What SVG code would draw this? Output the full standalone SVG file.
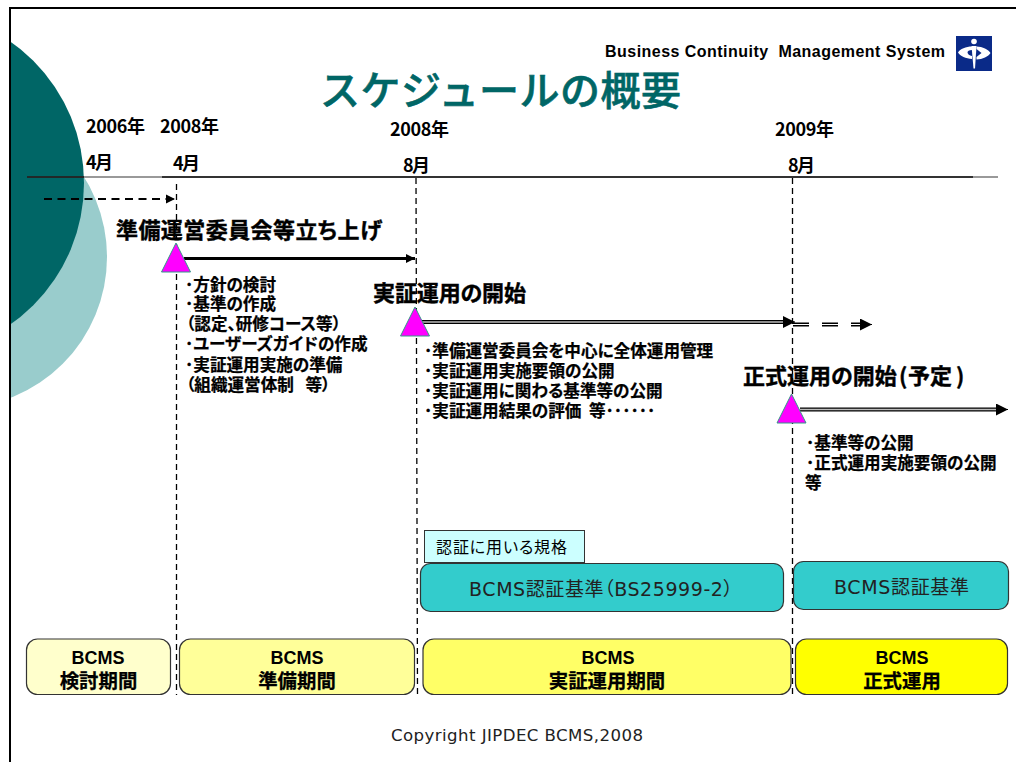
<svg xmlns="http://www.w3.org/2000/svg" width="1016" height="762" viewBox="0 0 1016 762">
<style>
text{font-family:"Noto Sans CJK JP","Liberation Sans",sans-serif;fill:#000;font-feature-settings:"palt"}
.yr{font-weight:700;font-size:18px}
.h{font-weight:700;font-size:22px;stroke:#000;stroke-width:.4}
.li{font-weight:700;font-size:16.600px;stroke:#000;stroke-width:.25}
.bt{font-family:"Liberation Sans","Noto Sans CJK JP",sans-serif;font-weight:700;font-size:18px;stroke:none}
.bk{font-weight:700;font-size:19.400px;text-anchor:middle;stroke:#000;stroke-width:.25}
.dv{font-family:"DejaVu Sans","Noto Sans CJK JP",sans-serif;fill:#222}
.dash{fill:none;stroke:#000;stroke-width:1.300;stroke-dasharray:6 4}
.tri{fill:#f0f;stroke:#339988;stroke-width:1}
.box{stroke:#333;stroke-width:1.200}
.dk{stroke:#000;stroke-width:4;fill:none}
.lt{stroke:#bbb;stroke-width:1.300;fill:none}
</style>
<defs>
<marker id="a1" markerUnits="userSpaceOnUse" markerWidth="10" markerHeight="10" refX="9" refY="5" orient="auto"><path d="M0 .5L9 5L0 9.500z" fill="#000"/></marker>
<marker id="a2" markerUnits="userSpaceOnUse" markerWidth="14" markerHeight="14" refX="12" refY="6" orient="auto"><path d="M0 0L12 6L0 12z" fill="#000"/></marker>
</defs>
<rect width="1016" height="762" fill="#fff"/>
<g id="background">
<circle cx="-44" cy="257" r="151" fill="#99cccc"/>
<circle cx="-89" cy="183" r="173" fill="#006666"/>
<rect x="0" y="0" width="10" height="762" fill="#fff"/>
<path d="M1016 8H10V762" fill="none" stroke="#000" stroke-width="2"/>
</g>
<g id="header">
<text x="605" y="57" xml:space="preserve" style="font-family:'Liberation Sans',sans-serif;font-weight:700;font-size:16px" textLength="340" fill="#111">Business Continuity  Management System</text>
<g id="logo">
<rect x="956" y="36" width="36" height="35" fill="#0a2a88"/>
<circle cx="974" cy="41.500" r="2.800" fill="#fff"/>
<path d="M971.500 46h5l-1.500 22.500h-1.500z" fill="#fff"/>
<path d="M958 52.500c2-3.500 8-6 14-6v3.500c-3 0-4.500 1-4.500 2.500s2 3 4.500 3.500v3c-6-.5-12-3-14-6.500z" fill="#fff"/>
<path d="M990.500 53c-2-3.500-8-6.500-14-6.500v2.500l5 4-5 4v2.500c6 0 12-3 14-6.500z" fill="#fff"/>
</g>
</g>
<text id="title" x="320" y="105" font-size="40" textLength="361" style="font-weight:500;fill:#006666;stroke:#006666;stroke-width:.6;font-feature-settings:normal">スケジュールの概要</text>
<g id="connectors">
<line x1="27" y1="177" x2="998" y2="177" stroke="#777" stroke-width="1.300"/>
<line x1="27" y1="177" x2="84" y2="177" stroke="#111" stroke-width="1.300"/>
<line x1="162" y1="177" x2="973" y2="177" stroke="#111" stroke-width="1.300"/>
<path class="dash" d="M176.500 184V695"/>
<path class="dash" d="M416 178L417.500 695"/>
<path class="dash" d="M792.500 178V695"/>
<path d="M44 199H175" fill="none" stroke="#000" stroke-width="1.800" stroke-dasharray="8 5.500" marker-end="url(#a1)"/>
<path d="M184 258.500H415" fill="none" stroke="#000" stroke-width="3" marker-end="url(#a1)"/>
<path class="dk" d="M422 322H783"/><path class="lt" d="M422 322H783"/>
<path d="M783 322L795 322" stroke="#000" stroke-width="1" marker-end="url(#a2)"/>
<path d="M793 324.500H860" fill="none" stroke="#000" stroke-width="4" stroke-dasharray="16 13"/>
<path d="M793 324.500H860" fill="none" stroke="#fff" stroke-width="1.200"/>
<path d="M860 324.500L872 324.500" stroke="#000" stroke-width="1" marker-end="url(#a2)"/>
<path class="dk" d="M800 409.500H996"/><path class="lt" d="M800 409.500H996"/>
<path d="M996 409.500L1008 409.500" stroke="#000" stroke-width="1" marker-end="url(#a2)"/>
</g>
<g id="dates">
<text class="yr" x="86" y="133" textLength="59">2006年</text>
<text class="yr" x="160" y="133" textLength="59">2008年</text>
<text class="yr" x="390" y="136" textLength="59">2008年</text>
<text class="yr" x="775" y="136" textLength="59">2009年</text>
<text class="yr" x="86" y="169" textLength="27">4月</text>
<text class="yr" x="173" y="170" textLength="27">4月</text>
<text class="yr" x="403" y="172" textLength="27">8月</text>
<text class="yr" x="788" y="172" textLength="27">8月</text>
</g>
<g id="milestone-prep">
<polygon class="tri" points="176,243 161.500,272 190.500,272"/>
<text class="h" x="116" y="238" textLength="266">準備運営委員会等立ち上げ</text>
<text class="li" xml:space="preserve"><tspan x="185" y="291">･方針の検討</tspan><tspan x="185" y="310">･基準の作成</tspan><tspan x="186" y="330">（認定、研修コース等）</tspan><tspan x="185" y="350">･ユーザーズガイドの作成</tspan><tspan x="185" y="371">･実証運用実施の準備</tspan><tspan x="186" y="391">（組織運営体制  </tspan><tspan dx="4">等）</tspan></text>
</g>
<g id="milestone-trial">
<polygon class="tri" points="415,307 400.500,336 429.500,336"/>
<text class="h" x="373" y="301" textLength="153">実証運用の開始</text>
<text class="li" xml:space="preserve"><tspan x="424" y="357">･準備運営委員会を中心に全体運用管理</tspan><tspan x="424" y="377">･実証運用実施要領の公開</tspan><tspan x="424" y="397">･実証運用に関わる基準等の公開</tspan><tspan x="424" y="417">･実証運用結果の評価  等･･････</tspan></text>
</g>
<g id="milestone-official">
<polygon class="tri" points="791.500,394 777,423 806,423"/>
<text class="h" x="743" y="384">正式運用の開始<tspan x="899">(</tspan><tspan x="908">予定</tspan><tspan x="956">)</tspan></text>
<text class="li"><tspan x="806" y="449">･基準等の公開</tspan><tspan x="806" y="469">･正式運用実施要領の公開</tspan><tspan x="805" y="489">等</tspan></text>
</g>
<g id="standard-label">
<rect x="424.500" y="530.500" width="160" height="32" fill="#ccffff" stroke="#333" stroke-width="1"/>
<text x="436" y="553" font-size="16" textLength="131" fill="#111">認証に用いる規格</text>
</g>
<g id="standard-trial">
<rect class="box" x="420.500" y="563.500" width="363" height="48" rx="10" fill="#33cccc"/>
<text class="dv" x="469" y="596" font-size="19" textLength="264">BCMS認証基準（BS25999-2）</text>
</g>
<g id="standard-official">
<rect class="box" x="793.500" y="561.500" width="215" height="48" rx="10" fill="#33cccc"/>
<text class="dv" x="834" y="594" font-size="19" textLength="135">BCMS認証基準</text>
</g>
<g id="phase-1">
<rect class="box" x="26.500" y="639" width="144" height="55.500" rx="11" fill="#ffffcc"/>
<text class="bk"><tspan class="bt" x="98" y="664">BCMS</tspan><tspan x="98.500" y="688">検討期間</tspan></text>
</g>
<g id="phase-2">
<rect class="box" x="179.500" y="639" width="235" height="55.500" rx="11" fill="#ffff99"/>
<text class="bk"><tspan class="bt" x="297" y="664">BCMS</tspan><tspan x="297" y="688">準備期間</tspan></text>
</g>
<g id="phase-3">
<rect class="box" x="423" y="639" width="368" height="55.500" rx="11" fill="#ffff66"/>
<text class="bk"><tspan class="bt" x="608" y="664">BCMS</tspan><tspan x="607" y="688">実証運用期間</tspan></text>
</g>
<g id="phase-4">
<rect class="box" x="795.500" y="639" width="212" height="55.500" rx="11" fill="#ffff00"/>
<text class="bk"><tspan class="bt" x="902" y="664">BCMS</tspan><tspan x="902" y="688">正式運用</tspan></text>
</g>
<text id="copyright" class="dv" x="391" y="741" font-size="16.600" textLength="252">Copyright JIPDEC BCMS,2008</text>
</svg>
